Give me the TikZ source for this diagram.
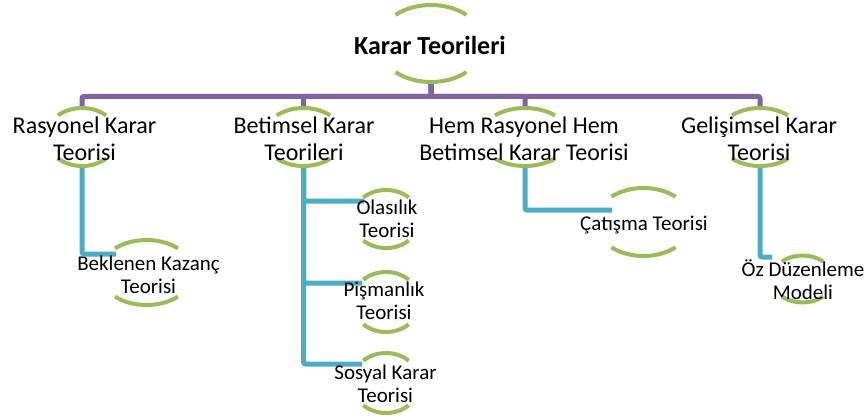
\documentclass[tikz,border=0pt]{standalone}
\usepackage{fontspec}
\setmainfont{Carlito}
\usepackage{tikz}
\usetikzlibrary{shapes.geometric}
\definecolor{TreePurple}{HTML}{8064A2}
\definecolor{TreeBlue}{HTML}{4BACC6}
\definecolor{TreeGreen}{HTML}{9BBB59}

\begin{document}
\begin{tikzpicture}[x=1pt,y=-1pt,
    hub/.style={ellipse,inner sep=0pt,outer sep=0pt},
    topline/.style={TreePurple,line width=5pt,rounded corners=2pt},
    subline/.style={TreeBlue,line width=5pt,rounded corners=2pt},
    arcline/.style={TreeGreen,line width=4pt},
    rootlabel/.style={font=\fontsize{26}{29}\selectfont\bfseries},
    mainlabel/.style={align=center,font=\fontsize{24}{27}\selectfont},
    sublabel/.style={align=center,font=\fontsize{21}{23}\selectfont}]
  \useasboundingbox (0,0) rectangle (868,420);
  % ellipse frames (only the upper and lower arcs are drawn)
  \node[hub,minimum width=106pt,minimum height=77pt] (root) at (431,43.5) {};
  \node[hub,minimum width=72pt,minimum height=58pt] (ras) at (82,137) {};
  \node[hub,minimum width=80pt,minimum height=58pt] (bet) at (303.5,137) {};
  \node[hub,minimum width=90pt,minimum height=58pt] (hem) at (525,137) {};
  \node[hub,minimum width=84pt,minimum height=58pt] (gel) at (760,137) {};
  \node[hub,minimum width=94pt,minimum height=65pt] (bek) at (146.5,272.5) {};
  \node[hub,minimum width=68pt,minimum height=58pt] (ola) at (386,219) {};
  \node[hub,minimum width=68pt,minimum height=60pt] (pis) at (386,302) {};
  \node[hub,minimum width=68pt,minimum height=60pt] (sos) at (386,383) {};
  \node[hub,minimum width=96pt,minimum height=68pt] (cat) at (643.5,222) {};
  \node[hub,minimum width=62pt,minimum height=47pt] (oz) at (802.5,279) {};

  % first level: purple bus under the root
  \coordinate (bar) at (0,96.5);
  \foreach \n in {ras,bet,hem,gel}
    \draw[topline] (root.south) |- (bar -| \n.north) -- (\n.north);

  % second level: blue elbows
  \coordinate (bek-in) at (116,254);
  \coordinate (ola-in) at (364,201);
  \coordinate (pis-in) at (362,283);
  \coordinate (sos-in) at (362,364);
  \coordinate (cat-in) at (612,210);
  \coordinate (oz-in) at (772,257);
  \draw[subline] (ras.south) |- (bek-in);
  \draw[subline] (bet.south) |- (ola-in);
  \draw[subline] (bet.south) |- (pis-in);
  \draw[subline] (bet.south) |- (sos-in);
  \draw[subline] (hem.south) |- (cat-in);
  \draw[subline] (gel.south) |- (oz-in);

  % green arcs top and bottom of every frame
  \foreach \n/\xr/\yr in {root/53/38.5,ras/36/29,bet/40/29,hem/45/29,gel/42/29,
      bek/47/32.5,ola/34/29,pis/34/30,sos/34/30,cat/48/34,oz/31/23.5}{
    \draw[arcline] (\n.center) ++(48:\xr pt and \yr pt)
      arc[start angle=48,end angle=132,x radius=\xr pt,y radius=\yr pt];
    \draw[arcline] (\n.center) ++(228:\xr pt and \yr pt)
      arc[start angle=228,end angle=312,x radius=\xr pt,y radius=\yr pt];
  }

  % labels
  \node[rootlabel] (root-t) at (430,45) {Karar Teorileri};
  \node[mainlabel] (ras-t) at (84.5,139) {Rasyonel Karar\\Teorisi};
  \node[mainlabel] (bet-t) at (304,139) {Betimsel Karar\\Teorileri};
  \node[mainlabel] (hem-t) at (524,139) {Hem Rasyonel Hem\\Betimsel Karar Teorisi};
  \node[mainlabel] (gel-t) at (759,139) {Gelişimsel Karar\\Teorisi};
  \node[sublabel] (bek-t) at (148.5,275) {Beklenen Kazanç\\Teorisi};
  \node[sublabel] (ola-t) at (387,219) {Olasılık\\Teorisi};
  \node[sublabel] (pis-t) at (384,301) {Pişmanlık\\Teorisi};
  \node[sublabel] (sos-t) at (385.5,384) {Sosyal Karar\\Teorisi};
  \node[sublabel] (cat-t) at (644,225) {Çatışma Teorisi};
  \node[sublabel] (oz-t) at (803,280) {Öz Düzenleme\\Modeli};
\end{tikzpicture}
\end{document}
